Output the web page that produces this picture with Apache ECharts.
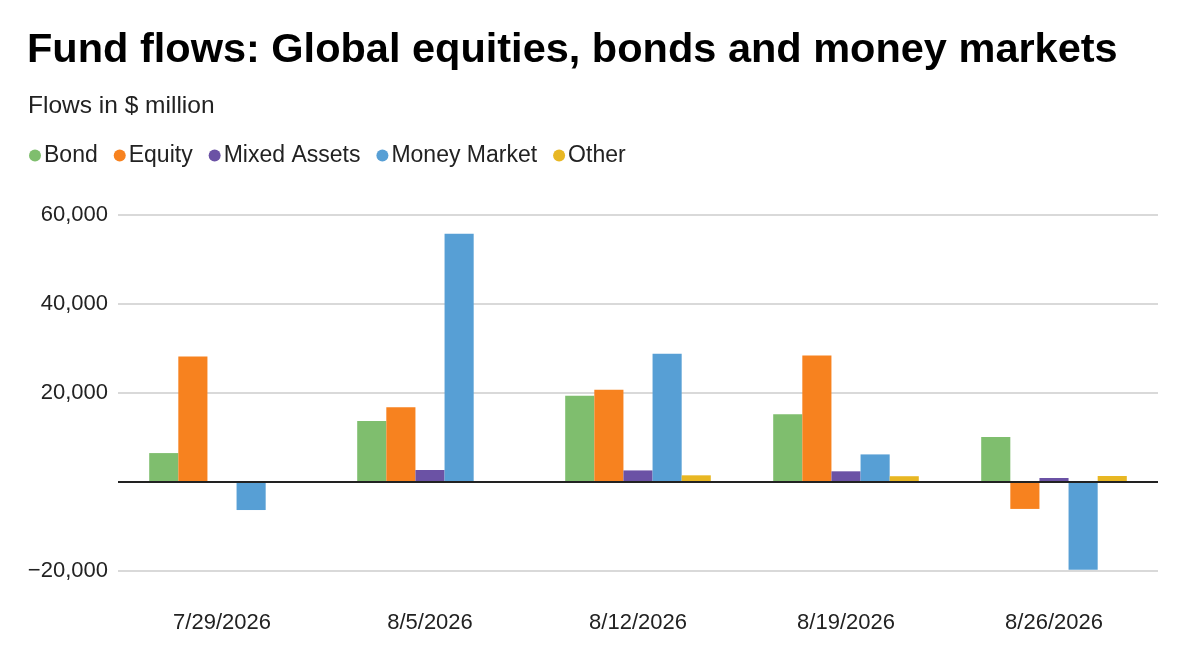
<!DOCTYPE html>
<html style="height: 100%">
<head>
    <meta charset="utf-8">
    <title>Fund flows</title>
    <script src="https://cdn.jsdelivr.net/npm/echarts@6/dist/echarts.min.js"></script>
</head>
<body style="margin: 0; height: 100%; background: #fff">
    <div id="main" style="width: 1182px; height: 654px"></div>
    <script>
        // Veckor och flöden i miljoner dollar
        const weeks = ['7/29/2026', '8/5/2026', '8/12/2026', '8/19/2026', '8/26/2026'];
        const bond = [6500, 13700, 19400, 15200, 10100];
        const equity = [28200, 16800, 20750, 28400, -6050];
        const mixedAssets = [0, 2700, 2600, 2400, 900];
        const moneyMarket = [-6300, 55800, 28800, 6200, -19700];
        const other = [0, 0, 1500, 1300, 1350];
        const yTicks = [-20000, 0, 20000, 40000, 60000];

        const font = '"Liberation Sans", Arial, Helvetica, sans-serif';
        const chart = echarts.init(document.getElementById('main'));

        // nollan visas inte, minus med riktigt minustecken
        function fmt(v) {
            if (v === 0) return '';
            const s = Math.abs(v).toLocaleString('en-US');
            return v < 0 ? '\u2212' + s : s;
        }

        function bar(name, data, color) {
            return {
                name,
                type: 'bar',
                data,
                barGap: 0,
                barCategoryGap: '30%',
                itemStyle: { color },
                emphasis: { disabled: true }
            };
        }

        const series = [
            bar('Bond', bond, '#7fbe6e'),
            bar('Equity', equity, '#f7821f'),
            bar('Mixed Assets', mixedAssets, '#6b52a5'),
            bar('Money Market', moneyMarket, '#579fd5'),
            bar('Other', other, '#e8b723')
        ];
        // nollinjen
        series[0].markLine = {
            silent: true,
            symbol: 'none',
            label: { show: false },
            lineStyle: { color: '#222', width: 2, type: 'solid' },
            data: [{ yAxis: 0 }]
        };

        chart.setOption({
            animation: false,
            textStyle: { fontFamily: font },
            title: [{
                text: 'Fund flows: Global equities, bonds and money markets',
                left: 22,
                top: 25,
                textStyle: { fontSize: 41.5, fontWeight: 'bold', color: '#000', fontFamily: font }
            }, {
                text: 'Flows in $ million',
                left: 23,
                top: 89,
                textStyle: { fontSize: 24.5, fontWeight: 'normal', color: '#222', fontFamily: font }
            }],
            legend: {
                left: 24,
                top: 139,
                icon: 'circle',
                itemWidth: 12,
                itemHeight: 12,
                itemGap: 16,
                textStyle: { fontSize: 23, color: '#222', fontFamily: font, padding: [0, 0, 0, -2] },
                data: ['Bond', 'Equity', 'Mixed Assets', 'Money Market', 'Other']
            },
            grid: { left: 118, right: 24, top: 215, bottom: 83 },
            xAxis: {
                type: 'category',
                data: weeks,
                axisLine: { show: false, onZero: false },
                axisTick: { show: false },
                axisLabel: { fontSize: 22, color: '#222', margin: 41, fontFamily: font }
            },
            yAxis: {
                type: 'value',
                min: yTicks[0],
                max: yTicks[yTicks.length - 1],
                interval: 20000,
                axisLine: { show: false },
                axisTick: { show: false },
                axisLabel: { fontSize: 22, color: '#222', margin: 10, formatter: fmt, fontFamily: font },
                splitLine: { lineStyle: { color: '#cccccc', width: 1.5 } }
            },
            series
        });
    </script>
</body>
</html>
